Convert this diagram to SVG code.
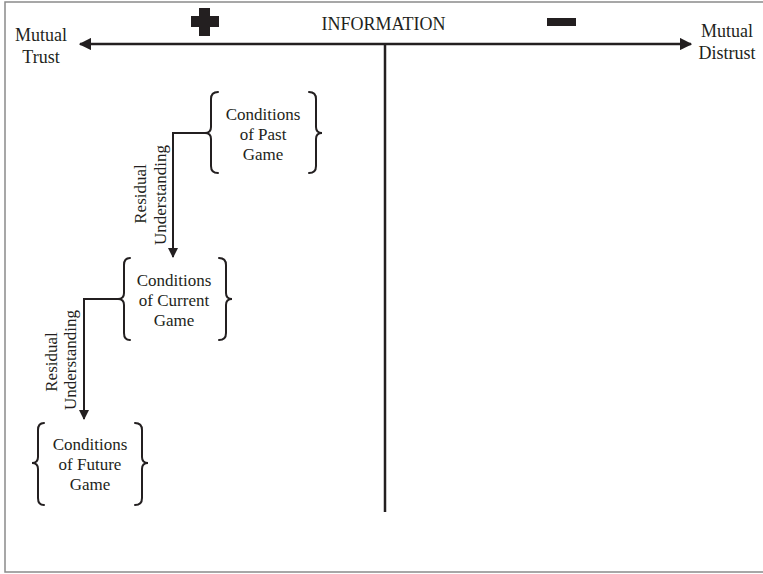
<svg xmlns="http://www.w3.org/2000/svg" width="763" height="574" viewBox="0 0 763 574">
<style>
text{font-family:"Liberation Serif","Times New Roman",serif;fill:#231f20}
.lbl{font-family:"Liberation Serif","Times New Roman",serif;font-size:18px;text-anchor:middle}
.node{font-family:"Liberation Serif","Times New Roman",serif;font-size:17px;text-anchor:middle}
.brace{fill:none;stroke:#231f20;stroke-width:2;stroke-linecap:round}
.conn{fill:none;stroke:#231f20;stroke-width:2}
.axis{fill:none;stroke:#231f20;stroke-width:2.5}
</style>
<defs>
<marker id="ah" viewBox="0 0 10 10" refX="9" refY="5" markerWidth="5" markerHeight="5" orient="auto" markerUnits="strokeWidth">
<path d="M0,0 L10,5 L0,10 z" fill="#231f20"/>
</marker>
<marker id="ah2" viewBox="0 0 10 10" refX="9" refY="5" markerWidth="5" markerHeight="5" orient="auto-start-reverse" markerUnits="strokeWidth">
<path d="M0,0 L10,5 L0,10 z" fill="#231f20"/>
</marker>
</defs>
<rect x="5" y="2" width="770" height="570" fill="#fff" stroke="#8a8a8a" stroke-width="1.5"/>
<g id="axis">
<line class="axis" x1="80" y1="44" x2="691" y2="44" marker-start="url(#ah2)" marker-end="url(#ah)"/>
<line class="axis" x1="385" y1="44" x2="385" y2="512"/>
<path d="M199,8 h11 v8 h9 v11 h-9 v9 h-11 v-9 h-8 v-11 h8 z" fill="#231f20"/>
<rect x="547" y="18" width="29" height="8" fill="#231f20"/>
<text class="lbl" x="383.5" y="30">INFORMATION</text>
<text class="lbl" x="41" y="41">Mutual</text>
<text class="lbl" x="41" y="63">Trust</text>
<text class="lbl" x="727" y="37">Mutual</text>
<text class="lbl" x="727" y="59">Distrust</text>
</g>
<g id="past">
<path class="brace" d="M218,92 Q211,92 211,99 L211,127 Q211,133 205,133 Q211,133 211,139 L211,166 Q211,173 218,173"/>
<path class="brace" d="M309,92 Q316,92 316,99 L316,127 Q316,133 322,133 Q316,133 316,139 L316,166 Q316,173 309,173"/>
<text class="node" x="263" y="120">Conditions</text>
<text class="node" x="263" y="140">of Past</text>
<text class="node" x="263" y="160">Game</text>
</g>
<g id="current">
<path class="brace" d="M130,258 Q124,258 124,265 L124,293 Q124,299 118,299 Q124,299 124,305 L124,333 Q124,340 130,340"/>
<path class="brace" d="M219,258 Q226,258 226,265 L226,293 Q226,299 232,299 Q226,299 226,305 L226,333 Q226,340 219,340"/>
<text class="node" x="174" y="286">Conditions</text>
<text class="node" x="174" y="306">of Current</text>
<text class="node" x="174" y="326">Game</text>
</g>
<g id="future">
<path class="brace" d="M44,423 Q38,423 38,430 L38,457 Q38,463 32,463 Q38,463 38,469 L38,498 Q38,505 44,505"/>
<path class="brace" d="M135,423 Q142,423 142,430 L142,457 Q142,463 148,463 Q142,463 142,469 L142,498 Q142,505 135,505"/>
<text class="node" x="90" y="450">Conditions</text>
<text class="node" x="90" y="470">of Future</text>
<text class="node" x="90" y="490">Game</text>
</g>
<g id="connectors">
<path class="conn" d="M205,133 H173 V257" marker-end="url(#ah)"/>
<text class="node" transform="translate(146,194) rotate(-90)">Residual</text>
<text class="node" transform="translate(166,195) rotate(-90)">Understanding</text>
<path class="conn" d="M118,299 H84 V419" marker-end="url(#ah)"/>
<text class="node" transform="translate(57,362) rotate(-90)">Residual</text>
<text class="node" transform="translate(76,360) rotate(-90)">Understanding</text>
</g>
</svg>
